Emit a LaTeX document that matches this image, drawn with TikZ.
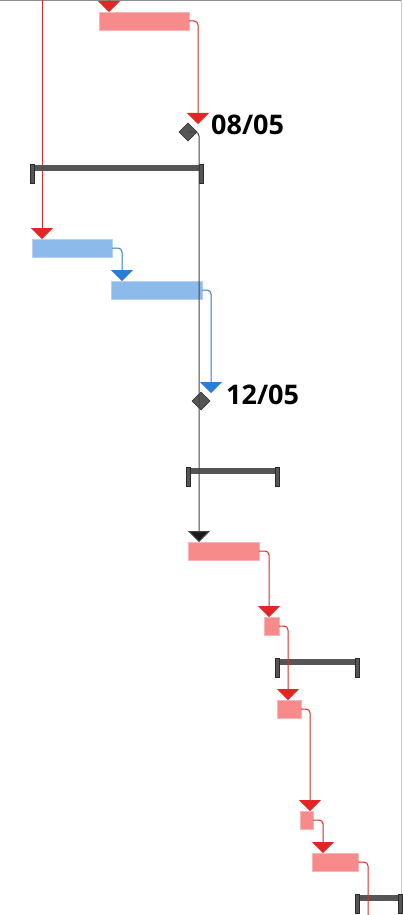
\documentclass[tikz,border=0pt]{standalone}
\usepackage{fontspec}
\setmainfont{Open Sans}
\usetikzlibrary{arrows.meta,shapes.geometric}
\definecolor{rbar}{HTML}{F78A8A}
\definecolor{rbord}{HTML}{FAB4B4}
\definecolor{rline}{HTML}{E22626}
\definecolor{bbar}{HTML}{8CBBEB}
\definecolor{bbord}{HTML}{B3D2F3}
\definecolor{bline}{HTML}{2A7DD6}
\definecolor{sgray}{HTML}{555555}
\definecolor{sdark}{HTML}{2A2A2A}
\definecolor{kline}{HTML}{444444}
\definecolor{ktip}{HTML}{1A1A1A}
\tikzset{
  bar/.style={anchor=north west, inner sep=0pt, outer sep=0pt, line width=0.6pt, minimum height=18pt},
  redbar/.style={bar, fill=rbar, draw=rbord},
  bluebar/.style={bar, fill=bbar, draw=bbord},
  sumbar/.style={anchor=north west, inner sep=0pt, outer sep=0pt, fill=sgray, minimum height=6pt},
  capbox/.style={anchor=north west, inner sep=0pt, outer sep=0pt, fill=sgray, draw=sdark, line width=0.6pt, minimum width=4pt, minimum height=19pt},
  ms/.style={diamond, inner sep=0pt, outer sep=0pt, minimum width=18pt, minimum height=18pt, fill=sgray, draw=sdark, line width=0.6pt},
  lab/.style={anchor=base west, inner sep=0pt, font=\fontsize{27}{31}\selectfont\bfseries, text=black},
  tip/.style={-{Triangle[width=22pt,length=11pt]}},
  rconn/.style={draw=rline, line width=1pt, rounded corners=4pt, tip},
  bconn/.style={draw=bline, line width=1pt, rounded corners=4pt, tip},
  kconn/.style={draw=kline, line width=1pt, rounded corners=4pt, -{Triangle[width=22pt,length=11pt,fill=ktip]}},
  rplain/.style={draw=rline, line width=1pt, rounded corners=4pt},
}
\begin{document}
\begin{tikzpicture}[x=1pt,y=-1pt]
\useasboundingbox (0,0) rectangle (402,915);
% frame
\draw[draw=gray!90, line width=1.2pt] (0,0.6) -- (402,0.6);
\draw[draw=gray!40, line width=0.8pt] (401.4,0) -- (401.4,915);

% free ends
\coordinate (topA) at (42,0);
\coordinate (top0) at (109,0);

% red line at far left (behind summary bar)
\coordinate (tA) at (42,239);
\draw[rconn] (topA) -- (tA);

% tasks
\node[redbar, minimum width=90pt] (r1) at (99,12) {};
\node[bluebar, minimum width=80pt] (b1) at (32,239) {};
\node[bluebar, minimum width=91pt] (b2) at (111,281) {};
\node[redbar, minimum width=71pt] (r3) at (188,542) {};
\node[redbar, minimum width=15pt] (r4) at (264,617) {};
\node[redbar, minimum width=24pt] (r5) at (277,700) {};
\node[redbar, minimum width=13pt] (r6) at (300,811) {};
\node[redbar, minimum width=46pt] (r7) at (312,853) {};

% summary bars
\node[sumbar, minimum width=169pt] (s1) at (32,165) {};
\node[capbox] (s1l) at (30,164) {};
\node[capbox] (s1r) at (199,164) {};
\node[sumbar, minimum width=93pt] (s2) at (187,468) {};
\node[capbox] (s2l) at (186,467) {};
\node[capbox] (s2r) at (275,467) {};
\node[sumbar, minimum width=83pt] (s3) at (276,659) {};
\node[capbox] (s3l) at (275,658) {};
\node[capbox] (s3r) at (355,658) {};
\node[sumbar, minimum width=45pt] (s4) at (356,895) {};
\node[capbox] (s4l) at (355,894) {};
\node[capbox] (s4r) at (398,894) {};

% milestones
\node[ms] (m1) at (188,132) {};
\node[ms] (m2) at (201,401) {};
\node[lab] (l1) at (211,135) {08/05};
\node[lab] (l2) at (226,404) {12/05};

% connectors
\coordinate (t0) at (109,12);
\draw[rconn] (top0) -- (t0);
\coordinate (t1) at (198,124);
\draw[rconn] (r1.east) -| (t1);
\coordinate (t2) at (122,281);
\draw[bconn] (b1.east) -| (t2);
\coordinate (t3) at (211,393);
\draw[bconn] (b2.east) -| (t3);
\coordinate (t4) at (199,542);
\draw[kconn] (m1.center) -| (t4);
\coordinate (t5) at (269,617);
\draw[rconn] (r3.east) -| (t5);
\coordinate (t6) at (288,700);
\draw[rconn] (r4.east) -| (t6);
\coordinate (t7) at (310,811);
\draw[rconn] (r5.east) -| (t7);
\coordinate (t8) at (323,853);
\draw[rconn] (r6.east) -| (t8);
\coordinate (bot) at (368,915);
\draw[rplain] (r7.east) -| (bot);
\end{tikzpicture}
\end{document}
